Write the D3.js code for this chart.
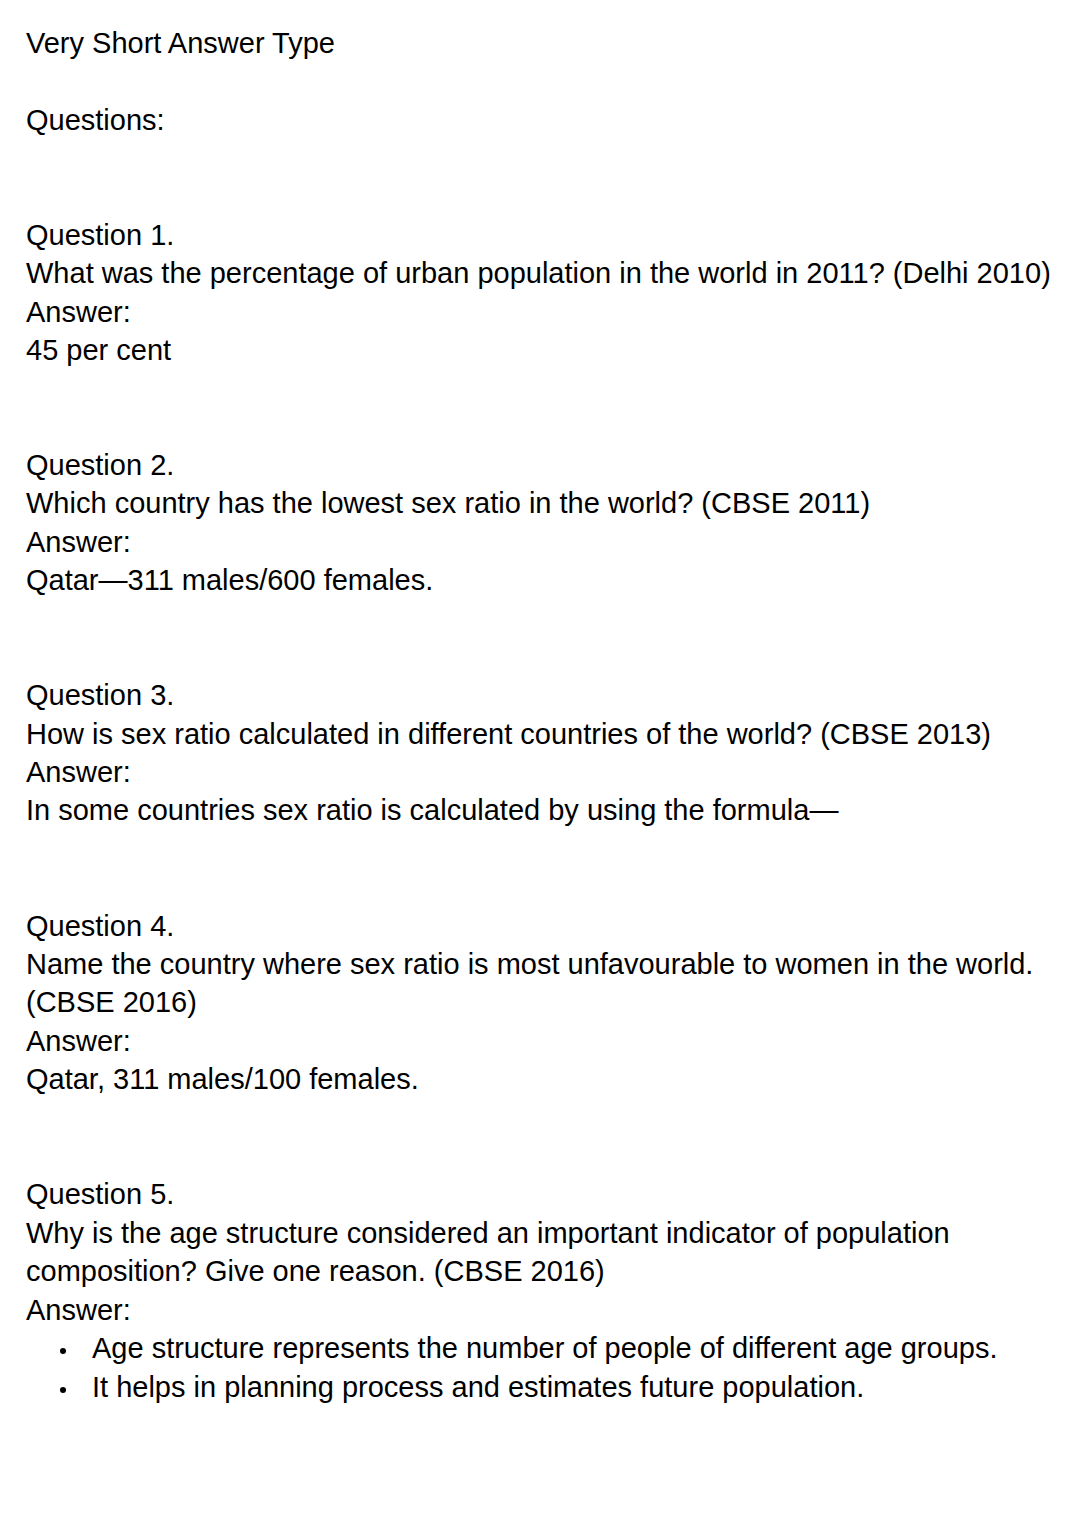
<!DOCTYPE html>
<html><head><meta charset="utf-8">
<script src="https://cdn.jsdelivr.net/npm/d3@7"></script>
<style>body{margin:0;background:#fff}</style>
</head><body>
<script>
// text lines: [y centre, text]
const headingLines = [[43, "Very Short Answer Type"], [120, "Questions:"]];
const bodyLines = [
  [235, "Question 1."],
  [273, "What was the percentage of urban population in the world in 2011? (Delhi 2010)"],
  [312, "Answer:"],
  [350, "45 per cent"],
  [465, "Question 2."],
  [503, "Which country has the lowest sex ratio in the world? (CBSE 2011)"],
  [542, "Answer:"],
  [580, "Qatar\u2014311 males/600 females."],
  [695, "Question 3."],
  [734, "How is sex ratio calculated in different countries of the world? (CBSE 2013)"],
  [772, "Answer:"],
  [810, "In some countries sex ratio is calculated by using the formula\u2014"],
  [926, "Question 4."],
  [964, "Name the country where sex ratio is most unfavourable to women in the world."],
  [1002, "(CBSE 2016)"],
  [1041, "Answer:"],
  [1079, "Qatar, 311 males/100 females."],
  [1194, "Question 5."],
  [1233, "Why is the age structure considered an important indicator of population"],
  [1271, "composition? Give one reason. (CBSE 2016)"],
  [1310, "Answer:"]
];
const bullets = [
  [1348, "Age structure represents the number of people of different age groups."],
  [1387, "It helps in planning process and estimates future population."]
];

const svg = d3.select("body").append("svg")
  .attr("width", 1080).attr("height", 1527)
  .style("font-family", "'Liberation Sans', Arial, sans-serif")
  .style("font-size", "29px").style("fill", "#000");

svg.selectAll("text.line")
  .data(headingLines.concat(bodyLines))
  .enter().append("text")
  .attr("class", "line")
  .attr("x", 26).attr("y", d => d[0])
  .attr("dominant-baseline", "central")
  .text(d => d[1]);

const b = svg.selectAll("g.bullet").data(bullets).enter().append("g").attr("class", "bullet");
b.append("circle").attr("cx", 63).attr("cy", d => d[0] + 3).attr("r", 3);
b.append("text").attr("x", 92).attr("y", d => d[0])
  .attr("dominant-baseline", "central").text(d => d[1]);
</script>
</body></html>
